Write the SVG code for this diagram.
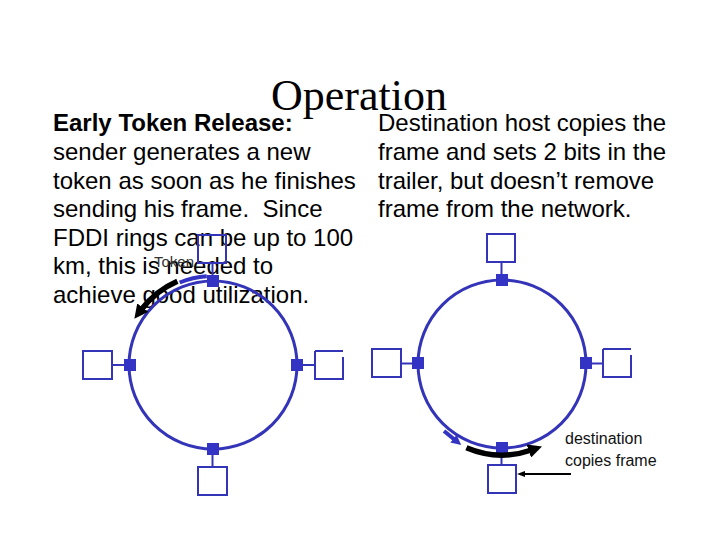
<svg xmlns="http://www.w3.org/2000/svg" width="720" height="540" viewBox="0 0 720 540">
<style>
  .t { font-family: "Liberation Sans", Arial, sans-serif; font-size: 24px; fill: #000; white-space: pre; }
  .b { font-weight: bold; }
  .title { font-family: "Liberation Serif", "Times New Roman", serif; font-size: 44px; fill: #000; }
  .small { font-family: "Liberation Sans", Arial, sans-serif; font-size: 16px; fill: #111; }
  .tok { font-family: "Liberation Sans", Arial, sans-serif; font-size: 15px; fill: #333; }
  .ring { fill: none; stroke: #3434B8; stroke-width: 3; }
  .box { fill: none; stroke: #3434B8; stroke-width: 2; }
  .link { stroke: #3434B8; stroke-width: 2; }
  .port { fill: #3333C4; }
  .blk { fill: none; stroke: #000; stroke-width: 5.5; }
  .blu { fill: none; stroke: #3434C4; stroke-width: 4; }
</style>
<defs>
  <marker id="hb" markerUnits="userSpaceOnUse" markerWidth="14" markerHeight="14" viewBox="0 0 14 14" refX="3" refY="7" orient="auto">
    <path d="M0,0 L14,7 L0,14 z" fill="#000"/>
  </marker>
  <marker id="hu" markerUnits="userSpaceOnUse" markerWidth="10" markerHeight="10" viewBox="0 0 10 10" refX="2" refY="5" orient="auto">
    <path d="M0,0 L10,5 L0,10 z" fill="#3434C4"/>
  </marker>
  <marker id="hs" markerUnits="userSpaceOnUse" markerWidth="8" markerHeight="8" viewBox="0 0 8 8" refX="1" refY="4" orient="auto">
    <path d="M0,1 L8,4 L0,7 z" fill="#000"/>
  </marker>
</defs>

<text class="title" x="359" y="110" text-anchor="middle">Operation</text>

<g id="left-text">
  <text class="t b" x="53" y="131">Early Token Release:</text>
  <text class="t" x="53" y="160">sender generates a new</text>
  <text class="t" x="53" y="188.5">token as soon as he finishes</text>
  <text class="t" x="53" y="217">sending his frame.  Since</text>
  <text class="t" x="53" y="245.5">FDDI rings can be up to 100</text>
  <text class="t" x="53" y="274">km, this is needed to</text>
  <text class="t" x="53" y="302.5">achieve good utilization.</text>
</g>
<g id="right-text">
  <text class="t" x="378" y="131">Destination host copies the</text>
  <text class="t" x="378" y="160">frame and sets 2 bits in the</text>
  <text class="t" x="378" y="188.5">trailer, but doesn’t remove</text>
  <text class="t" x="378" y="217">frame from the network.</text>
</g>

<!-- Left ring -->
<g id="ring-left">
  <circle class="ring" cx="213" cy="365" r="84"/>
</g>
<g id="L-top">
  <rect class="box" x="198" y="235" width="28" height="28"/>
  <line class="link" x1="212.5" y1="263" x2="212.5" y2="281"/>
  <rect class="port" x="207" y="275" width="12" height="12"/>
</g>
<g id="L-left">
  <rect class="box" x="83" y="351" width="29" height="28"/>
  <line class="link" x1="112" y1="365" x2="130" y2="365"/>
  <rect class="port" x="124" y="359" width="12" height="12"/>
</g>
<g id="L-right">
  <path class="box" d="M315,351 H343 M343,357 V379 H315 V351"/>
  <line class="link" x1="297" y1="365" x2="315" y2="365"/>
  <rect class="port" x="291" y="359" width="12" height="12"/>
</g>
<g id="L-bottom">
  <rect class="box" x="198" y="467" width="29" height="28"/>
  <line class="link" x1="212.5" y1="449" x2="212.5" y2="467"/>
  <rect class="port" x="207" y="443" width="12" height="12"/>
</g>

<!-- Right ring -->
<g id="ring-right">
  <circle class="ring" cx="502" cy="364" r="84"/>
</g>
<g id="R-top">
  <rect class="box" x="487" y="234" width="28" height="28"/>
  <line class="link" x1="501.5" y1="262" x2="501.5" y2="280"/>
  <rect class="port" x="496" y="274" width="12" height="12"/>
</g>
<g id="R-left">
  <rect class="box" x="372" y="349" width="29" height="28"/>
  <line class="link" x1="401" y1="363.5" x2="418" y2="363.5"/>
  <rect class="port" x="412" y="357" width="12" height="12"/>
</g>
<g id="R-right">
  <path class="box" d="M603,349 H631 M631,355 V377 H603 V349"/>
  <line class="link" x1="586" y1="363.5" x2="603" y2="363.5"/>
  <rect class="port" x="580" y="357" width="12" height="12"/>
</g>
<g id="R-bottom">
  <rect class="box" x="488" y="465" width="28" height="28"/>
  <line class="link" x1="501.5" y1="448" x2="501.5" y2="465"/>
  <rect class="port" x="496" y="442" width="12" height="12"/>
</g>

<g id="labels">
  <text class="tok" x="154" y="267">Token</text>
  <text class="small" x="565" y="444">destination</text>
  <text class="small" x="565" y="466">copies frame</text>
</g>

<g id="connectors">
  <path class="blu" d="M206.8,276.2 A89,89 0 0 0 179.7,282.5"/>
  <path class="blk" d="M177.4,281.2 A91,91 0 0 0 141,310" marker-end="url(#hb)"/>
  <path class="blu" d="M444,431 L455,440" stroke-width="3.5" marker-end="url(#hu)"/>
  <path class="blk" d="M466.4,447.8 A91,91 0 0 0 531.6,450" marker-end="url(#hb)"/>
  <path d="M571,474 L524,474" stroke="#000" stroke-width="2" fill="none" marker-end="url(#hs)"/>
</g>
</svg>
